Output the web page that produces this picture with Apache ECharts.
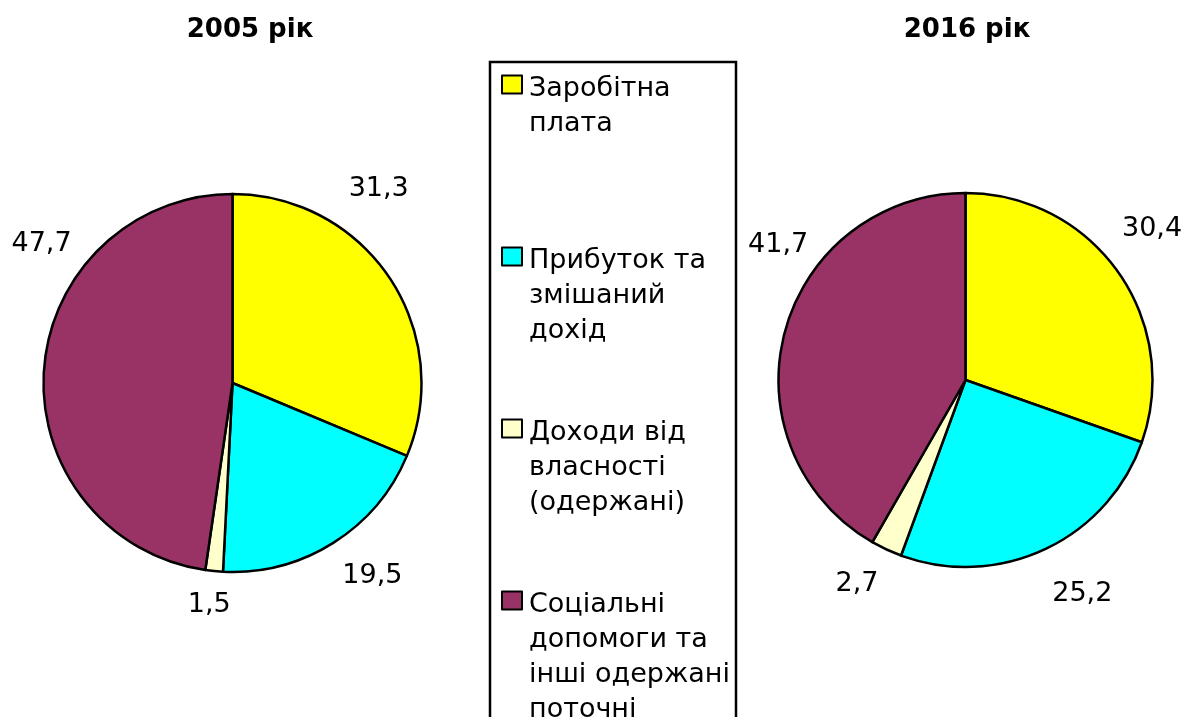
<!DOCTYPE html>
<html>
<head>
<meta charset="utf-8">
<script src="https://cdn.jsdelivr.net/npm/echarts@6/dist/echarts.min.js"></script>
<style>
html, body { margin: 0; background: #fff; }
#container { width: 1186px; height: 717px; }
</style>
</head>
<body>
<div id="container"></div>
<script>
// структура доходів населення, %
const categories = [
    'Заробітна плата',
    'Прибуток та змішаний дохід',
    'Доходи від власності (одержані)',
    'Соціальні допомоги та інші одержані поточні'
]
const legendText = [
    'Заробітна\nплата',
    'Прибуток та\nзмішаний\nдохід',
    'Доходи від\nвласності\n(одержані)',
    'Соціальні\nдопомоги та\nінші одержані\nпоточні'
]
const years = ['2005 рік', '2016 рік']
const values2005 = [31.3, 19.5, 1.5, 47.7]
const values2016 = [30.4, 25.2, 2.7, 41.7]
const colors = ['#ffff00', '#00ffff', '#ffffcc', '#993366']

// where each pie sits and where its value labels go (angle from top, distance from centre)
const pies = [
    { center: [232.5, 383], radius: 189, labelAngle: [37, 144, 186, 306], labelDist: [243, 238, 223, 236] },
    { center: [965.5, 380], radius: 187, labelAngle: [51, 151.4, 208, 305.8], labelDist: [240, 244, 231, 231] }
]

const font = 'DejaVu Sans'

function makePie(values, pie) {
    return {
        type: 'pie',
        center: pie.center,
        radius: pie.radius,
        startAngle: 90,
        clockwise: true,
        avoidLabelOverlap: false,
        silent: true,
        data: values.map((v, i) => ({ name: categories[i], value: v })),
        itemStyle: { borderColor: '#000', borderWidth: 2.5 },
        label: {
            show: true,
            position: 'outside',
            color: '#000',
            fontSize: 27,
            fontFamily: font,
            formatter: (params) => String(params.value).replace('.', ',')
        },
        labelLine: { show: false },
        labelLayout: (params) => {
            let a = pie.labelAngle[params.dataIndex] * Math.PI / 180
            let d = pie.labelDist[params.dataIndex]
            return {
                x: pie.center[0] + d * Math.sin(a),
                y: pie.center[1] - d * Math.cos(a),
                align: 'center',
                verticalAlign: 'middle'
            }
        },
        emphasis: { disabled: true }
    }
}

let options = {
    animation: false,
    color: colors,
    textStyle: { fontFamily: font },
    title: [
        { text: years[0], left: 250, top: 17, padding: 0, textAlign: 'center',
          textStyle: { fontSize: 26, fontWeight: 'bold', color: '#000', fontFamily: font } },
        { text: years[1], left: 967, top: 17, padding: 0, textAlign: 'center',
          textStyle: { fontSize: 26, fontWeight: 'bold', color: '#000', fontFamily: font } }
    ],
    legend: {
        orient: 'vertical',
        left: 490,
        top: 62,
        height: 800,
        padding: [8, 2, 0, 11],
        itemGap: 30,
        itemWidth: 22,
        itemHeight: 140,
        icon: 'path://M0,0M0,4.5h20v18h-20zM22,140',
        borderColor: '#000',
        borderWidth: 2.5,
        selectedMode: false,
        itemStyle: { borderColor: '#000', borderWidth: 2 },
        formatter: (name) => {
            let lines = legendText[categories.indexOf(name)].split('\n')
            while (lines.length < 4) lines.push(' ')
            return lines.join('\n')
        },
        textStyle: { fontSize: 27, lineHeight: 35, color: '#000', width: 205, fontFamily: font },
        data: categories
    },
    series: [
        makePie(values2005, pies[0]),
        makePie(values2016, pies[1])
    ]
}

let mychart = echarts.init(document.getElementById('container'))
mychart.setOption(options)
window.addEventListener('resize', () => { mychart.resize() })
</script>
</body>
</html>
